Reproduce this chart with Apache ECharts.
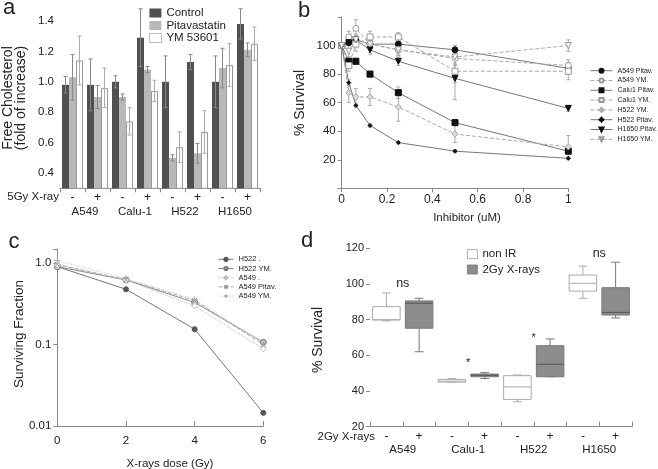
<!DOCTYPE html>
<html><head><meta charset="utf-8">
<script src="https://cdn.jsdelivr.net/npm/echarts@6/dist/echarts.min.js"></script>
<style>html,body{margin:0;padding:0;background:#fff}#c{width:658px;height:469px}</style>
</head><body><div id="c"></div>
<script>
// ---------- Panel a: free cholesterol ----------
const aCats = ['-', '+', '-', '+', '-', '+', '-', '+'];
const aGroups = ['A549', 'Calu-1', 'H522', 'H1650'];
const aControl = [0.98, 0.98, 1.00, 1.29, 1.00, 1.13, 1.00, 1.38];
const aControlErr = [0.055, 0.17, 0.04, 0.19, 0.17, 0.05, 0.17, 0.10];
const aPitav = [1.03, 0.90, 0.90, 1.08, 0.50, 0.53, 1.09, 1.21];
const aPitavErr = [0.15, 0.075, 0.02, 0.02, 0.02, 0.065, 0.13, 0.045];
const aYM = [1.14, 0.96, 0.74, 0.94, 0.57, 0.67, 1.11, 1.25];
const aYMErr = [0.16, 0.13, 0.09, 0.07, 0.10, 0.14, 0.14, 0.11];

// ---------- Panel b: survival vs inhibitor ----------
const bDoses = [0, 0.03125, 0.0625, 0.125, 0.25, 0.5, 1];
const bA549Pitav = [100, 102, 104, 101, 101, 97, 84];
const bA549PitavErr = [0, 2, 2, 3, 3, 3, 3];
const bA549YM = [100, 106, 112, 101, 97, 91, 86];
const bA549YMErr = [2, 4, 6, 3, 4, 5, 4];
const bCalu1Pitav = [100, 89, 89, 80, 67, 46, 26];
const bCalu1PitavErr = [0, 3, 2, 2, 4, 2, 2];
const bCalu1YM = [100, 86, 101, 106, 106, 82, 82];
const bCalu1YMErr = [0, 4, 5, 4, 3, 8, 6];
const bH522YM = [100, 67, 64, 64, 57, 38, 29];
const bH522YMErr = [2, 7, 6, 6, 10, 6, 8];
const bH522Pitav = [100, 74, 58, 44, 32, 26, 21];
const bH522PitavErr = [0, 2, 1, 1, 1, 1, 1];
const bH1650Pitav = [100, 102, 104, 97, 89, 77, 56];
const bH1650PitavErr = [0, 2, 3, 3, 3, 15, 2];
const bH1650YM = [100, 96, 104, 101, 97, 92, 100];
const bH1650YMErr = [2, 5, 4, 3, 3, 5, 4];

// ---------- Panel c: clonogenic survival ----------
const cDoses = [0, 2, 4, 6];
const cH522 = [0.91, 0.48, 0.155, 0.0145];
const cH522YM = [0.91, 0.625, 0.33, 0.107];
const cA549 = [0.95, 0.62, 0.30, 0.089];
const cA549Pitav = [0.97, 0.63, 0.35, 0.10];
const cA549YM = [1.08, 0.65, 0.36, 0.105];

// ---------- Panel d: box plots [min, Q1, median, Q3, max] ----------
const dCats = ['-', '+', '-', '+', '-', '+', '-', '+'];
const dGroups = ['A549', 'Calu-1', 'H522', 'H1650'];
const dNonIR = [[79.3, 79.8, 80, 87.3, 95], [45, 45, 45.5, 46.5, 47], [34, 35.3, 42.3, 48.6, 49], [92, 96, 100.4, 105, 110]];
const dIR = [[62, 75.2, 89.2, 90.5, 92], [47, 48, 48.8, 49.5, 50.3], [48, 48, 55, 65.4, 69.2], [81, 82.6, 84.1, 97.9, 112.2]];
const dSig = ['ns', '*', '*', 'ns'];
const dSigY = [100, 55.7, 69.7, 116.8];

const FONT = '"Liberation Sans", Arial, sans-serif';
const TXT = '#222';
const AX = '#888';

function errRender(off, color) {
  return function (params, api) {
    const i = api.value(0), v = api.value(1), e = api.value(2);
    const bw = api.size([1, 0])[0] * 0.84 / 3;
    const x = api.coord([i, v])[0] + off * bw;
    const yt = api.coord([i, v + e])[1];
    const yb = api.coord([i, v - e])[1];
    const st = { stroke: color, lineWidth: 1 };
    return { type: 'group', children: [
      { type: 'line', shape: { x1: x, y1: yt, x2: x, y2: yb }, style: st },
      { type: 'line', shape: { x1: x - 2, y1: yt, x2: x + 2, y2: yt }, style: st },
      { type: 'line', shape: { x1: x - 2, y1: yb, x2: x + 2, y2: yb }, style: st }
    ] };
  };
}
function vErrRender(params, api) {
  const x = api.value(0), lo = api.value(1), hi = api.value(2);
  const p1 = api.coord([x, hi]), p2 = api.coord([x, lo]);
  const st = { stroke: '#aaa', lineWidth: 1 };
  return { type: 'group', children: [
    { type: 'line', shape: { x1: p1[0], y1: p1[1], x2: p2[0], y2: p2[1] }, style: st },
    { type: 'line', shape: { x1: p1[0] - 2, y1: p1[1], x2: p1[0] + 2, y2: p1[1] }, style: st },
    { type: 'line', shape: { x1: p2[0] - 2, y1: p2[1], x2: p2[0] + 2, y2: p2[1] }, style: st }
  ] };
}
function boxRender(fill, stroke, med) {
  return function (params, api) {
    const x = api.value(0);
    const c = k => api.coord([x, api.value(k)]);
    const pMin = c(1), pQ1 = c(2), pMed = c(3), pQ3 = c(4), pMax = c(5);
    const bw = api.size([1, 0])[0] * 0.84;
    const cx = pMin[0], hw = bw / 2, cap = bw * 0.16;
    const st = { stroke: stroke, lineWidth: 1 };
    return { type: 'group', children: [
      { type: 'line', shape: { x1: cx, y1: pMax[1], x2: cx, y2: pQ3[1] }, style: st },
      { type: 'line', shape: { x1: cx - cap, y1: pMax[1], x2: cx + cap, y2: pMax[1] }, style: st },
      { type: 'line', shape: { x1: cx, y1: pMin[1], x2: cx, y2: pQ1[1] }, style: st },
      { type: 'line', shape: { x1: cx - cap, y1: pMin[1], x2: cx + cap, y2: pMin[1] }, style: st },
      { type: 'rect', shape: { x: cx - hw, y: pQ3[1], width: bw, height: pQ1[1] - pQ3[1] }, style: { fill: fill, stroke: stroke, lineWidth: 1 } },
      { type: 'line', shape: { x1: cx - hw, y1: pMed[1], x2: cx + hw, y2: pMed[1] }, style: { stroke: med, lineWidth: 1 } }
    ] };
  };
}

const triDown = 'path://M0,0L10,0L5,9Z';
const xMark = 'path://M0,0L10,10M10,0L0,10';
const plusMark = 'path://M5,0L5,10M0,5L10,5';

const bDefs = [
  ['A549 Pitav.', bA549Pitav, bA549PitavErr, 'circle', 6, '#111', '#111', '#777', 'solid'],
  ['A549 YM.', bA549YM, bA549YMErr, 'circle', 6, '#fff', '#999', '#aaa', 'dashed'],
  ['Calu1 Pitav.', bCalu1Pitav, bCalu1PitavErr, 'rect', 6, '#111', '#111', '#777', 'solid'],
  ['Calu1 YM.', bCalu1YM, bCalu1YMErr, 'rect', 6, '#fff', '#999', '#aaa', 'dashed'],
  ['H522 YM.', bH522YM, bH522YMErr, 'diamond', 6, '#ddd', '#aaa', '#aaa', 'dashed'],
  ['H522 Pitav.', bH522Pitav, bH522PitavErr, 'diamond', 4, '#111', '#111', '#777', 'solid'],
  ['H1650 Pitav.', bH1650Pitav, bH1650PitavErr, triDown, 6, '#111', '#111', '#777', 'solid'],
  ['H1650 YM.', bH1650YM, bH1650YMErr, triDown, 6, '#fff', '#999', '#aaa', 'dashed']
];
const bErrData = [];
bDefs.forEach(d => bDoses.forEach((x, i) => { if (d[2][i] > 0) bErrData.push([x, d[1][i] - d[2][i], d[1][i] + d[2][i]]); }));

const cDefs = [
  ['H522 .', cH522, 'circle', 5, '#555', '#555', '#777', 'solid'],
  ['H522 YM.', cH522YM, 'circle', 6, '#ccc', '#777', '#888', 'solid'],
  ['A549 .', cA549, 'diamond', 6, '#fff', '#bbb', '#bbb', 'dotted'],
  ['A549 Pitav.', cA549Pitav, xMark, 5, '#999', '#999', '#aaa', 'dashed'],
  ['A549 YM.', cA549YM, plusMark, 6, '#aaa', '#aaa', '#ccc', 'dotted']
];

const axLine = { lineStyle: { color: AX, width: 1 } };
const lbl = (o) => Object.assign({ color: TXT, fontFamily: FONT, fontSize: 11.5 }, o);

const series = [];
// panel a bars
[['Control', aControl, { color: '#505050' }],
 ['Pitavastatin', aPitav, { color: '#b8b8b8' }],
 ['YM 53601', aYM, { color: '#fff', borderColor: '#999', borderWidth: 1 }]].forEach(s => {
  series.push({ type: 'bar', name: s[0], xAxisIndex: 0, yAxisIndex: 0, data: s[1], itemStyle: s[2],
    barGap: '0%', barCategoryGap: '16%' });
});
[[aControl, aControlErr, -1, '#888'], [aPitav, aPitavErr, 0, '#888'], [aYM, aYMErr, 1, '#aaa']].forEach(s => {
  series.push({ type: 'custom', name: 'errA' + s[2], xAxisIndex: 0, yAxisIndex: 0, z: 5,
    data: s[0].map((v, i) => [i, v, s[1][i]]), encode: { x: 0, y: 1 }, renderItem: errRender(s[2], s[3]) });
});
// panel b
series.push({ type: 'custom', name: 'errB', xAxisIndex: 2, yAxisIndex: 1, z: 1, data: bErrData,
  encode: { x: 0, y: [1, 2] }, renderItem: vErrRender });
bDefs.forEach(d => {
  series.push({ type: 'line', name: d[0], xAxisIndex: 2, yAxisIndex: 1, z: 3,
    data: bDoses.map((x, i) => [x, d[1][i]]), symbol: d[3], symbolSize: d[4], showAllSymbol: true,
    itemStyle: { color: d[5], borderColor: d[6], borderWidth: 1 },
    lineStyle: { color: d[7], width: 1, type: d[8] } });
});
// panel c
cDefs.forEach(d => {
  series.push({ type: 'line', name: 'c|' + d[0], xAxisIndex: 3, yAxisIndex: 2,
    data: cDoses.map((x, i) => [x, d[1][i]]), symbol: d[2], symbolSize: d[3], showAllSymbol: true,
    itemStyle: { color: d[4], borderColor: d[5], borderWidth: 1 },
    lineStyle: { color: d[6], width: 1, type: d[7] } });
});
// panel d
series.push({ type: 'custom', name: 'non IR', xAxisIndex: 4, yAxisIndex: 3,
  itemStyle: { color: '#fff', borderColor: '#aaa' },
  data: dNonIR.map((r, g) => [2 * g].concat(r)), encode: { x: 0, y: [1, 2, 3, 4, 5] },
  renderItem: boxRender('#fff', '#aaa', '#aaa') });
series.push({ type: 'custom', name: '2Gy X-rays', xAxisIndex: 4, yAxisIndex: 3,
  itemStyle: { color: '#8c8c8c', borderColor: '#777' },
  data: dIR.map((r, g) => [2 * g + 1].concat(r)), encode: { x: 0, y: [1, 2, 3, 4, 5] },
  renderItem: boxRender('#8c8c8c', '#777', '#555') });
series.push({ type: 'custom', name: 'sig', xAxisIndex: 5, yAxisIndex: 3,
  data: dSigY.map((y, g) => [g, y]), encode: { x: 0, y: 1 },
  renderItem: function (params, api) {
    const p = api.coord([api.value(0), api.value(1)]);
    const t = dSig[params.dataIndex];
    return { type: 'text', x: p[0], y: p[1], style: { text: t, fontSize: t === '*' ? 11 : 12.5,
      fontFamily: FONT, fill: TXT, align: 'center', verticalAlign: 'middle' } };
  } });

function gtext(text, x, y, size, opts) {
  return Object.assign({ type: 'text', x: x, y: y, style: Object.assign({ text: text, fontSize: size,
    fontFamily: FONT, fill: TXT, align: 'center', verticalAlign: 'middle' }, (opts && opts.style) || {}) },
    (opts && opts.el) || {});
}

const option = {
  animation: false,
  backgroundColor: '#fff',
  textStyle: { fontFamily: FONT, color: TXT },
  grid: [
    { left: 60, top: 5.7, width: 200, height: 182.6, outerBoundsMode: 'none' },
    { left: 341.7, top: 17, width: 226.6, height: 171.3, outerBoundsMode: 'none' },
    { left: 57.3, top: 249, width: 206, height: 177, outerBoundsMode: 'none' },
    { left: 370, top: 248.3, width: 262, height: 178.4, outerBoundsMode: 'none' }
  ],
  xAxis: [
    { type: 'category', gridIndex: 0, data: aCats, axisLine: axLine,
      axisTick: { show: true, length: 4, lineStyle: { color: AX } }, axisLabel: lbl({ margin: 3, interval: 0, fontSize: 12 }) },
    { type: 'category', gridIndex: 0, data: aGroups, position: 'bottom', offset: 15,
      axisLine: { show: false }, axisTick: { show: false }, axisLabel: lbl({ margin: 3, interval: 0 }) },
    { type: 'value', gridIndex: 1, min: 0, max: 1, interval: 0.2, axisLine: axLine, splitLine: { show: false },
      axisTick: { show: true, length: 4, lineStyle: { color: AX } }, axisLabel: lbl({ margin: 5, fontSize: 12 }) },
    { type: 'value', gridIndex: 2, min: 0, max: 6, interval: 2, axisLine: axLine, splitLine: { show: false },
      axisTick: { show: true, inside: true, length: 5, lineStyle: { color: AX } }, axisLabel: lbl({ margin: 9 }) },
    { type: 'category', gridIndex: 3, data: dCats, axisLine: axLine,
      axisTick: { show: true, inside: true, length: 5, lineStyle: { color: AX } }, axisLabel: lbl({ margin: 4, interval: 0, fontSize: 12 }) },
    { type: 'category', gridIndex: 3, data: dGroups, position: 'bottom', offset: 14,
      axisLine: { show: false }, axisTick: { show: false }, axisLabel: lbl({ margin: 3, interval: 0 }) }
  ],
  yAxis: [
    { type: 'value', gridIndex: 0, min: 0.3, max: 1.5, interval: 0.1, axisLine: axLine, splitLine: { show: false },
      axisTick: { show: false }, axisLabel: lbl({ margin: 6, formatter: v => { const r = Math.round(v * 10);
        return (r % 2 === 0 && r >= 4 && r <= 14) ? (r / 10).toFixed(1) : ''; } }) },
    { type: 'value', gridIndex: 1, min: 0, max: 120, interval: 20, axisLine: axLine, splitLine: { show: false },
      axisTick: { show: true, length: 4, lineStyle: { color: AX } },
      axisLabel: lbl({ margin: 6, formatter: v => (v === 0 || v === 120) ? '' : String(v) }) },
    { type: 'log', logBase: 10, gridIndex: 2, min: 0.01, max: 1.5, axisLine: axLine, splitLine: { show: false },
      axisTick: { show: true, length: 4, lineStyle: { color: AX } },
      axisLabel: lbl({ margin: 6, formatter: v => Math.abs(v - 1) < 1e-6 ? '1.0' : Math.abs(v - 0.1) < 1e-7 ? '0.1' : Math.abs(v - 0.01) < 1e-8 ? '0.01' : '' }) },
    { type: 'value', gridIndex: 3, min: 20, max: 120, interval: 20, axisLine: axLine, splitLine: { show: false },
      axisTick: { show: true, length: 4, lineStyle: { color: AX } }, axisLabel: lbl({ margin: 6, fontSize: 11 }) }
  ],
  legend: [
    { left: 149, top: 7, padding: 0, orient: 'vertical', icon: 'rect', itemWidth: 12, itemHeight: 9, itemGap: 0.5,
      textStyle: { fontSize: 11.5, lineHeight: 10, color: TXT, fontFamily: FONT },
      data: ['Control', 'Pitavastatin', { name: 'YM 53601', itemStyle: { color: '#fff', borderColor: '#aaa', borderWidth: 0.8 } }] },
    { left: 590, top: 66.7, padding: 0, orient: 'vertical', itemWidth: 22, itemHeight: 5, itemGap: 1.8,
      lineStyle: { width: 1 },
      textStyle: { fontSize: 7, lineHeight: 8, color: TXT, fontFamily: FONT }, data: bDefs.map(d => d[0]) },
    { left: 218, top: 255.3, padding: 0, orient: 'vertical', itemWidth: 15, itemHeight: 4, itemGap: 1.2,
      lineStyle: { width: 1 },
      textStyle: { fontSize: 7.5, lineHeight: 8, color: TXT, fontFamily: FONT }, data: cDefs.map(d => 'c|' + d[0]),
      formatter: n => n.replace('c|', '') },
    { left: 467, top: 248.2, padding: 0, orient: 'vertical', icon: 'rect', itemWidth: 10, itemHeight: 9, itemGap: 3.3,
      textStyle: { fontSize: 11.5, lineHeight: 9, color: TXT, fontFamily: FONT },
      data: [{ name: 'non IR', itemStyle: { color: '#fff', borderColor: '#999', borderWidth: 0.8 } },
             { name: '2Gy X-rays', itemStyle: { color: '#8c8c8c', borderColor: '#777', borderWidth: 0.8 } }] }
  ],
  series: series,
  graphic: [
    gtext('a', 9, 8, 22), gtext('b', 304, 11, 22), gtext('c', 14, 242, 22), gtext('d', 307, 241, 22),
    gtext('Free Cholesterol\n(fold of increase)', 15, 98, 14, { el: { rotation: Math.PI / 2 }, style: { lineHeight: 13 } }),
    gtext('% Survival', 300, 103, 14, { el: { rotation: Math.PI / 2 } }),
    gtext('Surviving Fraction', 19, 334, 13.5, { el: { rotation: Math.PI / 2 } }),
    gtext('% Survival', 318, 340, 14, { el: { rotation: Math.PI / 2 } }),
    gtext('Inhibitor (uM)', 467, 218, 11.5),
    gtext('X-rays dose (Gy)', 170, 464, 11.5),
    gtext('5Gy X-ray', 59, 197, 11.5, { style: { align: 'right' } }),
    gtext('2Gy X-rays', 375, 437, 11.5, { style: { align: 'right' } })
  ]
};
const chart = echarts.init(document.getElementById('c'), null, { renderer: 'canvas' });
chart.setOption(option);
</script></body></html>
